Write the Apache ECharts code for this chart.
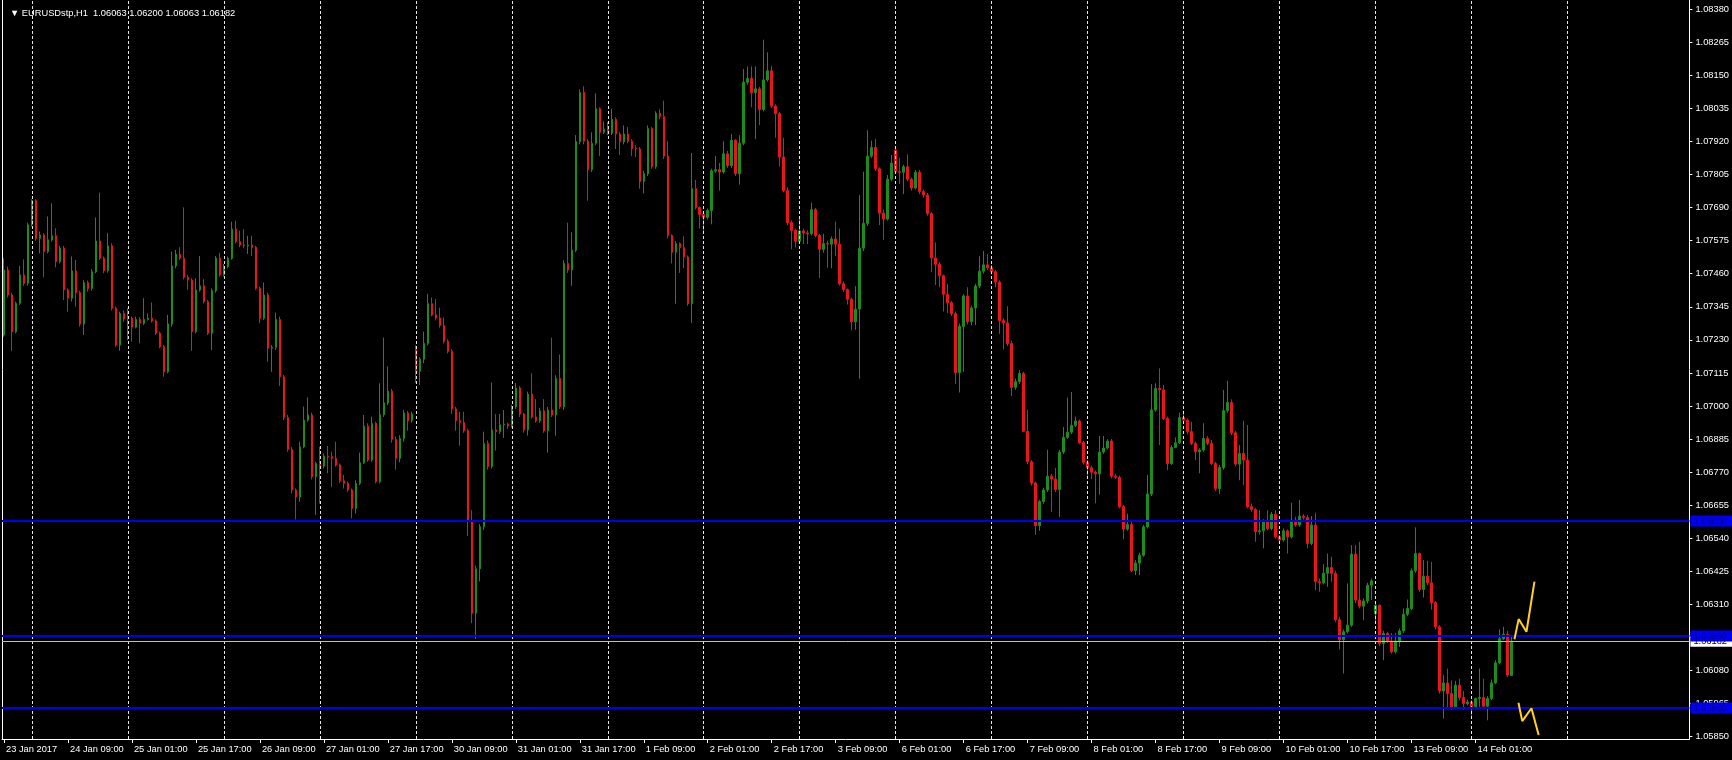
<!DOCTYPE html>
<html><head><meta charset="utf-8">
<script src="https://cdn.jsdelivr.net/npm/echarts@6/dist/echarts.min.js"></script>
<style>html,body{margin:0;padding:0;background:#000;}#c{width:1732px;height:760px;}</style>
</head><body><div id="c"></div>
<script>
const symbolTitle = '\u25BC EURUSDstp,H1  1.06063 1.06200 1.06063 1.06182';
const timeLabels = ['23 Jan 2017','24 Jan 09:00','25 Jan 01:00','25 Jan 17:00','26 Jan 09:00','27 Jan 01:00','27 Jan 17:00','30 Jan 09:00','31 Jan 01:00','31 Jan 17:00','1 Feb 09:00','2 Feb 01:00','2 Feb 17:00','3 Feb 09:00','6 Feb 01:00','6 Feb 17:00','7 Feb 09:00','8 Feb 01:00','8 Feb 17:00','9 Feb 09:00','10 Feb 01:00','10 Feb 17:00','13 Feb 09:00','14 Feb 01:00'];
const yTicks = [1.05850,1.05965,1.06080,1.06195,1.06310,1.06425,1.06540,1.06655,1.06770,1.06885,1.07000,1.07115,1.07230,1.07345,1.07460,1.07575,1.07690,1.07805,1.07920,1.08035,1.08150,1.08265,1.08380];
const levelLines = [1.06600, 1.06200, 1.05950];
const lastPrice = 1.06182;
const dayStarts = [7,31,55,79,103,127,151,175,199,223,247,271,295,319,343,367,391];
const zigUpX = [377.75, 378.8, 380.75, 382.75];
const zigUpY = [1.06189, 1.06259, 1.06215, 1.06389];
const zigDnX = [378.75, 379.7, 382.0, 383.8];
const zigDnY = [1.05968, 1.05904, 1.05949, 1.05856];

const opens = [
1.07247,1.07473,1.07386,1.07258,1.07357,1.07456,1.07427,1.07630,1.07715,1.07583,
1.07595,1.07537,1.07578,1.07592,1.07502,1.07549,1.07404,1.07375,1.07470,1.07394,
1.07285,1.07429,1.07409,1.07467,1.07574,1.07514,1.07471,1.07557,1.07340,1.07212,
1.07322,1.07303,1.07305,1.07274,1.07301,1.07288,1.07301,1.07305,1.07296,1.07253,
1.07206,1.07119,1.07285,1.07487,1.07528,1.07514,1.07448,1.07438,1.07259,1.07404,
1.07418,1.07363,1.07253,1.07401,1.07514,1.07456,1.07485,1.07514,1.07615,1.07572,
1.07560,1.07557,1.07560,1.07552,1.07409,1.07305,1.07386,1.07201,1.07204,1.07301,
1.07102,1.06960,1.06849,1.06708,1.06684,1.06858,1.06951,1.06969,1.06754,1.06800,
1.06791,1.06826,1.06824,1.06818,1.06795,1.06740,1.06731,1.06708,1.06644,1.06731,
1.06803,1.06930,1.06812,1.06940,1.06737,1.06970,1.07011,1.07052,1.06884,1.06818,
1.06887,1.06976,1.06949,1.07197,1.07121,1.07163,1.07218,1.07356,1.07317,1.07306,
1.07280,1.07225,1.07190,1.06990,1.06949,1.06942,1.06914,1.06597,1.06279,1.06434,
1.06580,1.06870,1.06790,1.06917,1.06911,1.06935,1.06937,1.06931,1.06997,1.07063,
1.06972,1.06917,1.07041,1.06962,1.06949,1.06983,1.06914,1.06986,1.06969,1.07096,
1.06997,1.07496,1.07473,1.07542,1.07919,1.08090,1.07921,1.07822,1.07914,1.08034,
1.07952,1.07963,1.07949,1.07997,1.07946,1.07919,1.07946,1.07921,1.07896,1.07894,
1.07781,1.07808,1.07965,1.07832,1.08018,1.08007,1.07869,1.07593,1.07535,1.07565,
1.07551,1.07518,1.07356,1.07756,1.07690,1.07666,1.07656,1.07680,1.07818,1.07822,
1.07814,1.07877,1.07836,1.07924,1.07808,1.07914,1.08126,1.08139,1.08090,1.08103,
1.08031,1.08134,1.08166,1.08043,1.08017,1.07866,1.07749,1.07638,1.07611,1.07573,
1.07609,1.07602,1.07599,1.07683,1.07593,1.07545,1.07565,1.07563,1.07581,1.07563,
1.07425,1.07405,1.07371,1.07293,1.07337,1.07549,1.07635,1.07869,1.07899,1.07825,
1.07671,1.07650,1.07789,1.07890,1.07815,1.07813,1.07832,1.07789,1.07758,1.07813,
1.07746,1.07734,1.07669,1.07515,1.07493,1.07453,1.07389,1.07359,1.07321,1.07116,
1.07277,1.07383,1.07293,1.07341,1.07417,1.07469,1.07491,1.07481,1.07467,1.07431,
1.07297,1.07289,1.07217,1.07065,1.07085,1.07113,1.06912,1.06806,1.06732,1.06584,
1.06668,1.06708,1.06756,1.06746,1.06710,1.06840,1.06891,1.06909,1.06933,1.06948,
1.06873,1.06804,1.06785,1.06770,1.06764,1.06840,1.06854,1.06878,1.06756,1.06752,
1.06650,1.06572,1.06588,1.06428,1.06454,1.06481,1.06580,1.06694,1.06986,1.07061,
1.07056,1.06957,1.06800,1.06856,1.06872,1.06960,1.06951,1.06911,1.06870,1.06841,
1.06847,1.06887,1.06870,1.06800,1.06713,1.06786,1.06984,1.07012,1.06907,1.06798,
1.06835,1.06812,1.06650,1.06640,1.06563,1.06566,1.06597,1.06574,1.06624,1.06545,
1.06534,1.06566,1.06545,1.06603,1.06586,1.06617,1.06612,1.06522,1.06586,1.06389,
1.06385,1.06418,1.06438,1.06418,1.06257,1.06188,1.06215,1.06238,1.06485,1.06325,
1.06304,1.06322,1.06377,1.06278,1.06307,1.06174,1.06209,1.06183,1.06145,1.06183,
1.06218,1.06276,1.06296,1.06427,1.06487,1.06362,1.06408,1.06385,1.06316,1.06232,
1.06009,1.06037,1.06000,1.05954,1.06029,1.05986,1.05965,1.05971,1.05954,1.05983,
1.05986,1.05956,1.05983,1.06037,1.06107,1.06191,1.06206,1.06063];

const highs = [
1.07514,1.07485,1.07394,1.07363,1.07487,1.07510,1.07638,1.07719,1.07719,1.07607,
1.07601,1.07659,1.07705,1.07618,1.07557,1.07557,1.07409,1.07520,1.07508,1.07401,
1.07438,1.07436,1.07476,1.07656,1.07742,1.07520,1.07601,1.07566,1.07346,1.07328,
1.07332,1.07340,1.07311,1.07311,1.07309,1.07375,1.07322,1.07360,1.07301,1.07259,
1.07212,1.07317,1.07537,1.07543,1.07552,1.07691,1.07456,1.07444,1.07444,1.07522,
1.07441,1.07369,1.07409,1.07522,1.07533,1.07494,1.07520,1.07641,1.07645,1.07610,
1.07615,1.07592,1.07592,1.07557,1.07415,1.07429,1.07394,1.07212,1.07325,1.07311,
1.07108,1.06969,1.06858,1.06713,1.06876,1.06998,1.07030,1.06977,1.06806,1.06858,
1.06835,1.06861,1.06841,1.06876,1.06800,1.06760,1.06737,1.06713,1.06742,1.06838,
1.06969,1.06940,1.06963,1.06945,1.07079,1.07238,1.07138,1.07059,1.06894,1.06898,
1.06986,1.06983,1.06980,1.07211,1.07170,1.07259,1.07390,1.07377,1.07372,1.07342,
1.07308,1.07232,1.07197,1.06997,1.06980,1.06980,1.06921,1.06638,1.06445,1.06590,
1.06911,1.06880,1.07082,1.06972,1.06972,1.06986,1.06942,1.07004,1.07080,1.07069,
1.06976,1.07050,1.07114,1.07024,1.06994,1.07024,1.06997,1.07238,1.07107,1.07179,
1.07507,1.07638,1.07604,1.07942,1.08101,1.08112,1.07928,1.07952,1.08087,1.08039,
1.07990,1.07988,1.08034,1.08004,1.07952,1.07976,1.07970,1.07928,1.07907,1.07901,
1.07818,1.07976,1.07970,1.08025,1.08032,1.08062,1.07921,1.07597,1.07574,1.07569,
1.07590,1.07524,1.07880,1.07786,1.07694,1.07676,1.07687,1.07825,1.07869,1.07845,
1.07921,1.07887,1.07946,1.07928,1.07942,1.08172,1.08181,1.08181,1.08181,1.08110,
1.08274,1.08230,1.08182,1.08049,1.08022,1.07933,1.07761,1.07645,1.07617,1.07653,
1.07617,1.07611,1.07707,1.07689,1.07599,1.07599,1.07575,1.07590,1.07641,1.07617,
1.07433,1.07409,1.07377,1.07417,1.07734,1.07815,1.07959,1.07923,1.07929,1.07830,
1.07683,1.07803,1.07873,1.07897,1.07863,1.07839,1.07875,1.07794,1.07821,1.07821,
1.07753,1.07741,1.07674,1.07569,1.07501,1.07457,1.07425,1.07365,1.07329,1.07287,
1.07389,1.07413,1.07349,1.07425,1.07521,1.07539,1.07529,1.07491,1.07473,1.07437,
1.07305,1.07347,1.07227,1.07095,1.07125,1.07119,1.06987,1.06812,1.06737,1.06674,
1.06716,1.06848,1.06764,1.06785,1.06848,1.06927,1.07029,1.07049,1.06963,1.06953,
1.06879,1.06812,1.06792,1.06776,1.06896,1.06896,1.06885,1.06885,1.06764,1.06758,
1.06656,1.06626,1.06596,1.06464,1.06490,1.06586,1.06760,1.07076,1.07079,1.07131,
1.07073,1.06963,1.06864,1.06891,1.06977,1.06984,1.06957,1.06945,1.06876,1.06853,
1.06940,1.06896,1.06882,1.06806,1.06795,1.07056,1.07088,1.07023,1.06914,1.06864,
1.06949,1.06934,1.06661,1.06645,1.06638,1.06606,1.06638,1.06632,1.06638,1.06551,
1.06574,1.06571,1.06664,1.06615,1.06673,1.06624,1.06621,1.06617,1.06629,1.06400,
1.06450,1.06487,1.06476,1.06427,1.06267,1.06223,1.06383,1.06516,1.06516,1.06528,
1.06331,1.06385,1.06400,1.06316,1.06310,1.06218,1.06215,1.06211,1.06211,1.06226,
1.06296,1.06327,1.06435,1.06578,1.06490,1.06464,1.06462,1.06458,1.06322,1.06238,
1.06064,1.06087,1.06046,1.06044,1.06052,1.06009,1.05979,1.05977,1.05986,1.06087,
1.06052,1.05991,1.06049,1.06116,1.06223,1.06232,1.06218,1.06200];

const lows = [
1.07241,1.07378,1.07192,1.07253,1.07351,1.07418,1.07418,1.07624,1.07575,1.07531,
1.07448,1.07531,1.07572,1.07482,1.07496,1.07369,1.07328,1.07363,1.07346,1.07276,
1.07247,1.07398,1.07401,1.07462,1.07508,1.07462,1.07464,1.07332,1.07206,1.07192,
1.07293,1.07230,1.07224,1.07270,1.07218,1.07282,1.07297,1.07290,1.07247,1.07201,
1.07102,1.07114,1.07276,1.07479,1.07508,1.07441,1.07404,1.07192,1.07253,1.07398,
1.07357,1.07247,1.07195,1.07394,1.07450,1.07450,1.07479,1.07508,1.07566,1.07552,
1.07549,1.07529,1.07522,1.07404,1.07288,1.07299,1.07154,1.07119,1.07195,1.07070,
1.06951,1.06841,1.06696,1.06606,1.06667,1.06853,1.06945,1.06745,1.06621,1.06661,
1.06783,1.06766,1.06719,1.06789,1.06733,1.06713,1.06702,1.06609,1.06626,1.06725,
1.06798,1.06806,1.06806,1.06731,1.06731,1.06962,1.07004,1.06873,1.06779,1.06804,
1.06876,1.06914,1.06942,1.07080,1.07073,1.07149,1.07211,1.07312,1.07298,1.07273,
1.07218,1.07183,1.06972,1.06914,1.06862,1.06907,1.06548,1.06245,1.06190,1.06390,
1.06569,1.06779,1.06783,1.06845,1.06903,1.06889,1.06921,1.06925,1.06990,1.06962,
1.06907,1.06897,1.06956,1.06942,1.06942,1.06907,1.06838,1.06962,1.06897,1.06990,
1.06986,1.07463,1.07418,1.07535,1.07910,1.07910,1.07714,1.07814,1.07907,1.07869,
1.07946,1.07942,1.07942,1.07894,1.07873,1.07910,1.07914,1.07869,1.07866,1.07756,
1.07739,1.07800,1.07825,1.07825,1.07997,1.07859,1.07583,1.07496,1.07356,1.07463,
1.07480,1.07349,1.07289,1.07684,1.07618,1.07601,1.07648,1.07632,1.07811,1.07749,
1.07808,1.07828,1.07828,1.07800,1.07770,1.07907,1.08117,1.08039,1.07928,1.07977,
1.08025,1.08128,1.08037,1.07933,1.07833,1.07743,1.07629,1.07545,1.07551,1.07565,
1.07563,1.07563,1.07593,1.07587,1.07445,1.07533,1.07481,1.07479,1.07521,1.07419,
1.07397,1.07353,1.07263,1.07265,1.07095,1.07539,1.07626,1.07863,1.07818,1.07629,
1.07578,1.07645,1.07782,1.07809,1.07773,1.07737,1.07782,1.07749,1.07753,1.07737,
1.07725,1.07662,1.07465,1.07421,1.07413,1.07329,1.07323,1.07313,1.07077,1.07047,
1.07119,1.07284,1.07281,1.07281,1.07409,1.07461,1.07473,1.07457,1.07413,1.07251,
1.07197,1.07209,1.07035,1.07056,1.07077,1.06909,1.06797,1.06723,1.06552,1.06566,
1.06660,1.06701,1.06632,1.06701,1.06614,1.06833,1.06885,1.06903,1.06927,1.06867,
1.06797,1.06758,1.06746,1.06662,1.06692,1.06833,1.06849,1.06749,1.06746,1.06644,
1.06536,1.06566,1.06422,1.06412,1.06412,1.06476,1.06574,1.06687,1.06980,1.06864,
1.06951,1.06777,1.06795,1.06853,1.06868,1.06945,1.06902,1.06864,1.06812,1.06766,
1.06841,1.06864,1.06795,1.06705,1.06694,1.06779,1.06977,1.06899,1.06791,1.06742,
1.06725,1.06644,1.06632,1.06528,1.06553,1.06505,1.06568,1.06568,1.06539,1.06528,
1.06528,1.06487,1.06539,1.06580,1.06580,1.06605,1.06505,1.06516,1.06360,1.06354,
1.06380,1.06371,1.06389,1.06249,1.06153,1.06070,1.06209,1.06232,1.06315,1.06296,
1.06255,1.06313,1.06325,1.06244,1.06165,1.06116,1.06176,1.06139,1.06139,1.06162,
1.06211,1.06269,1.06290,1.06420,1.06354,1.06334,1.06377,1.06292,1.06223,1.06000,
1.05913,1.05948,1.05944,1.05948,1.05977,1.05944,1.05959,1.05919,1.05948,1.05954,
1.05951,1.05907,1.05977,1.06033,1.06102,1.06186,1.06058,1.06063];

const closes = [
1.07473,1.07386,1.07258,1.07357,1.07456,1.07427,1.07630,1.07715,1.07583,1.07595,
1.07537,1.07578,1.07592,1.07502,1.07549,1.07404,1.07375,1.07470,1.07394,1.07285,
1.07429,1.07409,1.07467,1.07574,1.07514,1.07471,1.07557,1.07340,1.07212,1.07322,
1.07303,1.07305,1.07274,1.07301,1.07288,1.07301,1.07305,1.07296,1.07253,1.07206,
1.07119,1.07285,1.07487,1.07528,1.07514,1.07448,1.07438,1.07259,1.07404,1.07418,
1.07363,1.07253,1.07401,1.07514,1.07456,1.07485,1.07514,1.07615,1.07572,1.07560,
1.07557,1.07560,1.07552,1.07409,1.07305,1.07386,1.07201,1.07204,1.07301,1.07102,
1.06960,1.06849,1.06708,1.06684,1.06858,1.06951,1.06969,1.06754,1.06800,1.06791,
1.06826,1.06824,1.06818,1.06795,1.06740,1.06731,1.06708,1.06644,1.06731,1.06803,
1.06930,1.06812,1.06940,1.06737,1.06970,1.07011,1.07052,1.06884,1.06818,1.06887,
1.06976,1.06949,1.06972,1.07121,1.07163,1.07218,1.07356,1.07317,1.07306,1.07280,
1.07225,1.07190,1.06990,1.06949,1.06942,1.06914,1.06597,1.06279,1.06434,1.06580,
1.06870,1.06790,1.06917,1.06911,1.06935,1.06937,1.06931,1.06997,1.07063,1.06972,
1.06917,1.07041,1.06962,1.06949,1.06983,1.06914,1.06986,1.06969,1.07096,1.06997,
1.07496,1.07473,1.07542,1.07919,1.08090,1.07921,1.07822,1.07914,1.08034,1.07952,
1.07963,1.07949,1.07997,1.07946,1.07919,1.07946,1.07921,1.07896,1.07894,1.07781,
1.07808,1.07965,1.07832,1.08018,1.08007,1.07869,1.07593,1.07535,1.07565,1.07551,
1.07518,1.07356,1.07756,1.07690,1.07666,1.07656,1.07680,1.07818,1.07822,1.07814,
1.07877,1.07836,1.07924,1.07808,1.07914,1.08126,1.08139,1.08090,1.08103,1.08031,
1.08134,1.08166,1.08043,1.08017,1.07866,1.07749,1.07638,1.07611,1.07573,1.07609,
1.07602,1.07599,1.07683,1.07593,1.07545,1.07565,1.07563,1.07581,1.07563,1.07425,
1.07405,1.07371,1.07293,1.07337,1.07549,1.07635,1.07869,1.07899,1.07825,1.07671,
1.07650,1.07789,1.07845,1.07815,1.07813,1.07832,1.07789,1.07758,1.07813,1.07746,
1.07734,1.07669,1.07515,1.07493,1.07453,1.07389,1.07359,1.07321,1.07116,1.07277,
1.07383,1.07293,1.07341,1.07417,1.07469,1.07491,1.07481,1.07467,1.07431,1.07297,
1.07289,1.07217,1.07065,1.07085,1.07113,1.06912,1.06806,1.06732,1.06584,1.06668,
1.06708,1.06756,1.06746,1.06710,1.06840,1.06891,1.06909,1.06933,1.06948,1.06873,
1.06804,1.06785,1.06770,1.06764,1.06840,1.06854,1.06878,1.06756,1.06752,1.06650,
1.06572,1.06588,1.06428,1.06454,1.06481,1.06580,1.06694,1.06986,1.07061,1.07056,
1.06957,1.06800,1.06856,1.06872,1.06960,1.06951,1.06911,1.06870,1.06841,1.06847,
1.06887,1.06870,1.06800,1.06713,1.06786,1.06984,1.07012,1.06907,1.06798,1.06835,
1.06812,1.06650,1.06640,1.06563,1.06566,1.06597,1.06574,1.06624,1.06545,1.06534,
1.06566,1.06545,1.06603,1.06586,1.06617,1.06612,1.06522,1.06586,1.06389,1.06385,
1.06418,1.06438,1.06418,1.06257,1.06188,1.06215,1.06238,1.06485,1.06325,1.06304,
1.06322,1.06377,1.06392,1.06307,1.06174,1.06209,1.06183,1.06145,1.06183,1.06218,
1.06276,1.06296,1.06427,1.06487,1.06362,1.06408,1.06385,1.06316,1.06232,1.06009,
1.06037,1.06000,1.05954,1.06029,1.05986,1.05965,1.05971,1.05954,1.05983,1.05986,
1.05956,1.05983,1.06037,1.06107,1.06191,1.06206,1.06064,1.06182];

const SLOTS = 422;
const Y_MIN = 1.05842, Y_MAX = 1.08412;
const FONT = '"Liberation Sans", Arial, sans-serif';
const FS = 9.3;
const BULL = '#1c8c1c', BEAR = '#e8161c';

const cats = Array.from({length: SLOTS}, (_, i) => String(i));
const candleData = opens.map((o, i) => [o, closes[i], lows[i], highs[i]]);
const showIdx = (i) => i % 16 === 0 && i / 16 < timeLabels.length;

const boxLabel = (fg, bg) => ({show: true, position: 'end', distance: 1,
  formatter: p => Number(p.value).toFixed(5),
  color: fg, backgroundColor: bg, padding: [1, 8, 0, 3], lineHeight: 10,
  fontSize: FS, fontFamily: FONT});

const chart = echarts.init(document.getElementById('c'), null, {renderer: 'canvas'});
chart.setOption({
  backgroundColor: '#000',
  animation: false,
  title: {text: symbolTitle, left: 5, top: 4,
    textStyle: {color: '#fff', fontSize: FS, fontWeight: 'normal', fontFamily: FONT}},
  grid: {left: 2, right: 42, top: 0, bottom: 21},
  xAxis: [
    {type: 'category', data: cats, boundaryGap: true, position: 'bottom',
     axisLine: {show: true, onZero: false, lineStyle: {color: '#fff', width: 1}},
     axisTick: {show: true, alignWithLabel: true, interval: showIdx, length: 4, lineStyle: {color: '#fff'}},
     axisLabel: {show: true, interval: showIdx, formatter: (v, i) => timeLabels[i / 16] || '',
       color: '#fff', fontSize: FS, fontFamily: FONT, align: 'left', margin: 6, padding: [0, 0, 0, 2]},
     splitLine: {show: false}},
    {type: 'value', min: -0.5, max: SLOTS - 0.5, show: false}
  ],
  yAxis: [
    {type: 'value', position: 'right', min: Y_MIN, max: Y_MAX,
     axisLine: {show: true, onZero: false, lineStyle: {color: '#fff'}},
     axisTick: {show: true, customValues: yTicks, length: 3, lineStyle: {color: '#fff'}},
     axisLabel: {show: true, customValues: yTicks, formatter: v => v.toFixed(5),
       color: '#fff', fontSize: FS, fontFamily: FONT, margin: 6},
     splitLine: {show: false}},
    {type: 'value', position: 'left', min: Y_MIN, max: Y_MAX,
     axisLine: {show: true, onZero: false, lineStyle: {color: '#fff'}},
     axisTick: {show: false}, axisLabel: {show: false}, splitLine: {show: false}}
  ],
  series: [
    {type: 'line', xAxisIndex: 1, yAxisIndex: 0, z: 1,
     data: dayStarts.map(d => [d, yTicks[0]]), showSymbol: false, silent: true,
     lineStyle: {opacity: 0},
     markLine: {silent: true, symbol: ['none', 'none'], precision: 5, label: {show: false},
       lineStyle: {color: '#e8e8e8', type: [3, 2], width: 1},
       data: dayStarts.map(d => ({xAxis: d}))}},
    {type: 'candlestick', xAxisIndex: 0, yAxisIndex: 0, z: 2, barWidth: 2,
     data: candleData,
     itemStyle: {color: BULL, color0: BEAR, borderColor: BULL, borderColor0: BEAR, borderWidth: 1}},
    {type: 'line', xAxisIndex: 1, yAxisIndex: 0, z: 5, showSymbol: false, silent: true,
     data: zigUpX.map((x, i) => [x, zigUpY[i]]),
     lineStyle: {color: '#ffd21f', width: 2},
     markLine: {silent: true, symbol: ['none', 'none'], precision: 5,
       data: [
         {yAxis: lastPrice, lineStyle: {color: '#c0c0c0', width: 1, type: 'solid'},
          label: boxLabel('#000', '#fff')}
       ].concat(levelLines.map(v => ({yAxis: v,
          lineStyle: {color: '#0000f0', width: 2, type: 'solid'},
          label: boxLabel('#00008c', '#0000f0')})))}},
    {type: 'line', xAxisIndex: 1, yAxisIndex: 0, z: 5, showSymbol: false, silent: true,
     data: zigDnX.map((x, i) => [x, zigDnY[i]]),
     lineStyle: {color: '#ffd21f', width: 2}}
  ]
});
</script>
</body></html>
